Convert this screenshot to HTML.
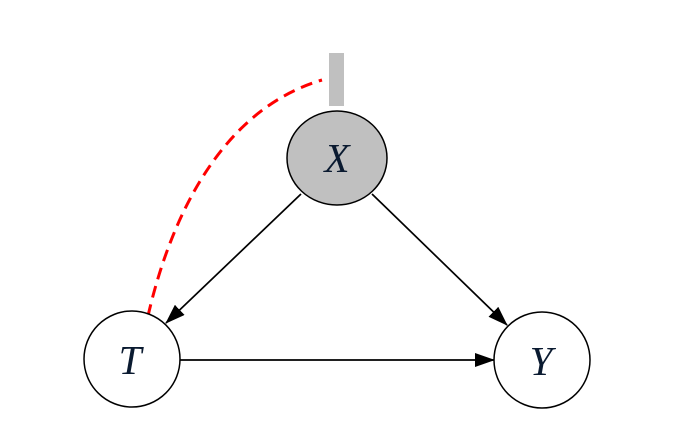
<!DOCTYPE html>
<html><head><style>html,body{margin:0;padding:0;background:#fff;}</style></head>
<body>
<svg width="679" height="424" viewBox="0 0 679 424" xmlns="http://www.w3.org/2000/svg">
<defs>
<marker id="b" markerWidth="20" markerHeight="14" refX="19" refY="7" orient="auto" markerUnits="userSpaceOnUse" viewBox="0 0 20 14">
<path d="M0,0 L20,7 L0,14 z" fill="#000"/></marker>
</defs>
<rect x="329" y="53" width="15" height="53" fill="#c0c0c0"/>
<path d="M148,316 C170,220 220,110 322,80" fill="none" stroke="#ff0000" stroke-width="3" stroke-dasharray="12,7"/>
<line x1="301" y1="194" x2="166" y2="323" stroke="#000" stroke-width="1.7" marker-end="url(#b)"/>
<line x1="372" y1="194" x2="507" y2="325" stroke="#000" stroke-width="1.7" marker-end="url(#b)"/>
<line x1="180" y1="360" x2="494" y2="360" stroke="#000" stroke-width="1.7" marker-end="url(#b)"/>
<ellipse cx="337" cy="158" rx="50" ry="47" fill="#c0c0c0" stroke="#000" stroke-width="1.5"/>
<circle cx="132" cy="359" r="48" fill="#fff" stroke="#000" stroke-width="1.5"/>
<circle cx="542" cy="360" r="48" fill="#fff" stroke="#000" stroke-width="1.5"/>
<text x="337" y="172" text-anchor="middle" font-family="Liberation Serif, serif" font-style="italic" font-size="41" fill="#0a1a30">X</text>
<text x="130" y="374" text-anchor="middle" font-family="Liberation Serif, serif" font-style="italic" font-size="41" fill="#0a1a30">T</text>
<text x="541" y="375" text-anchor="middle" font-family="Liberation Serif, serif" font-style="italic" font-size="41" fill="#0a1a30">Y</text>
</svg>
</body></html>
